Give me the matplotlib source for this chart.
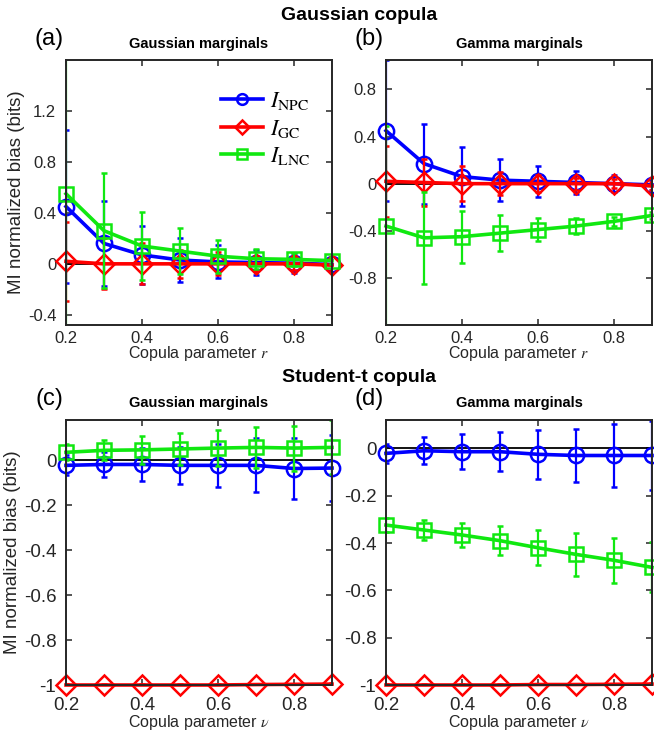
import matplotlib
matplotlib.use("Agg")
import matplotlib.pyplot as plt
from matplotlib.lines import Line2D

plt.rcParams['font.family'] = ['Liberation Sans', 'DejaVu Sans']
plt.rcParams['mathtext.fontset'] = 'stix'

# Copula parameter values (r for the Gaussian copula, nu for Student-t)
x = [0.2, 0.3, 0.4, 0.5, 0.6, 0.7, 0.8, 0.9]

# (a) Gaussian copula, Gaussian marginals
a_npc = [0.45, 0.16, 0.07, 0.03, 0.015, 0.01, 0.005, -0.005]
a_npc_err = [0.60, 0.33, 0.23, 0.17, 0.13, 0.10, 0.08, 0.05]
a_gc = [0.02, 0.0, 0.0, 0.0, 0.0, 0.0, 0.0, -0.01]
a_gc_err = [0.31, 0.20, 0.16, 0.11, 0.09, 0.06, 0.05, 0.04]
a_lnc = [0.55, 0.26, 0.14, 0.10, 0.06, 0.04, 0.035, 0.025]
a_lnc_err = [1.30, 0.45, 0.27, 0.18, 0.13, 0.08, 0.05, 0.03]

# (b) Gaussian copula, Gamma marginals
b_npc = [0.45, 0.17, 0.06, 0.03, 0.02, 0.01, 0.0, -0.01]
b_npc_err = [0.60, 0.34, 0.25, 0.18, 0.13, 0.10, 0.07, 0.04]
b_gc = [0.02, 0.01, 0.0, 0.0, 0.0, 0.0, 0.0, -0.02]
b_gc_err = [0.30, 0.20, 0.15, 0.10, 0.07, 0.05, 0.04, 0.03]
b_lnc = [-0.36, -0.46, -0.45, -0.42, -0.39, -0.36, -0.32, -0.27]
b_lnc_err = [0.85, 0.39, 0.22, 0.15, 0.10, 0.07, 0.04, 0.03]

# (c) Student-t copula, Gaussian marginals
c_npc = [-0.022, -0.018, -0.018, -0.022, -0.022, -0.022, -0.036, -0.034]
c_npc_err = [0.045, 0.055, 0.072, 0.083, 0.095, 0.12, 0.136, 0.145]
c_gc = [-1.0, -1.0, -1.0, -1.0, -1.0, -0.998, -0.997, -0.996]
c_gc_err = [0.003, 0.003, 0.003, 0.003, 0.003, 0.003, 0.003, 0.003]
c_lnc = [0.036, 0.045, 0.047, 0.051, 0.055, 0.058, 0.055, 0.058]
c_lnc_err = [0.035, 0.045, 0.063, 0.07, 0.08, 0.09, 0.10, 0.12]

# (d) Student-t copula, Gamma marginals
d_npc = [-0.021, -0.01, -0.014, -0.014, -0.025, -0.03, -0.03, -0.03]
d_npc_err = [0.04, 0.058, 0.075, 0.083, 0.104, 0.113, 0.134, 0.145]
d_gc = [-1.0, -1.0, -1.0, -1.0, -0.998, -0.998, -0.997, -0.996]
d_gc_err = [0.003, 0.003, 0.003, 0.003, 0.003, 0.003, 0.003, 0.003]
d_lnc = [-0.324, -0.345, -0.366, -0.39, -0.42, -0.448, -0.473, -0.503]
d_lnc_err = [0.028, 0.044, 0.051, 0.06, 0.073, 0.09, 0.094, 0.106]

labels = [r'$I_{\mathrm{NPC}}$', r'$I_{\mathrm{GC}}$', r'$I_{\mathrm{LNC}}$']
colors = ['#0000ff', '#ff0000', '#10e810']
markers = ['o', 'D', 's']
msizes = [11, 10, 10]

W, H = 654, 735
fig = plt.figure(figsize=(W / 100, H / 100), dpi=100)


def box(l, t, r, b):
    return [l / W, 1 - b / H, (r - l) / W, (b - t) / H]


INK = '#262626'


def panel(rect, series, ylim, yticks, letter, subtitle, xsym, fs_tick,
          xpad):
    ax = fig.add_axes(rect)
    ax.axhline(0, color='black', lw=1.3, zorder=2)
    for k, (y, e) in enumerate(series):
        line, caps, bars = ax.errorbar(
            x, y, yerr=e, color=colors[k], lw=2.6, marker=markers[k],
            ms=msizes[k], mfc='none', mew=1.8, elinewidth=1.6,
            capsize=2.5, capthick=1.6, zorder=3 + k)
        line.set_clip_on(False)
    ax.set_xlim(0.2, 0.9)
    ax.set_ylim(*ylim)
    ax.set_xticks([0.2, 0.4, 0.6, 0.8])
    ax.set_xticklabels(['0.2', '0.4', '0.6', '0.8'])
    ax.set_yticks(yticks)
    ax.set_yticklabels(['0' if abs(v) < 1e-9 else ('%g' % v) for v in yticks])
    ax.tick_params(direction='in', length=4, width=1.1, top=True, right=True,
                   labelsize=fs_tick, colors=INK)
    ax.tick_params(axis='y', pad=7)
    ax.tick_params(axis='x', pad=xpad)
    for s in ax.spines.values():
        s.set_color(INK)
        s.set_linewidth(1.4)
        s.set_zorder(10)
    ax.set_title(subtitle, fontsize=10.5, fontweight='bold', pad=9)
    ax.set_xlabel('Copula parameter ' + xsym, fontsize=11.5, labelpad=-1,
                  color=INK)
    bb = ax.get_position()
    fig.text(bb.x0 - 0.026, bb.y1 + 0.028, letter, fontsize=17,
             ha='center', va='center', color='black')
    return ax


ax_a = panel(box(66, 60, 332, 325),
             [(a_npc, a_npc_err), (a_gc, a_gc_err), (a_lnc, a_lnc_err)],
             (-0.48, 1.6), [-0.4, 0, 0.4, 0.8, 1.2], '(a)',
             'Gaussian marginals', r'$r$', 12, 4)
ax_b = panel(box(386, 60, 652, 325),
             [(b_npc, b_npc_err), (b_gc, b_gc_err), (b_lnc, b_lnc_err)],
             (-1.2, 1.05), [-0.8, -0.4, 0, 0.4, 0.8], '(b)',
             'Gamma marginals', r'$r$', 12, 4)
ax_c = panel(box(66, 420, 332, 685),
             [(c_npc, c_npc_err), (c_gc, c_gc_err), (c_lnc, c_lnc_err)],
             (-1.0, 0.18), [-1, -0.8, -0.6, -0.4, -0.2, 0], '(c)',
             'Gaussian marginals', r'$\nu$', 13.5, 9)
ax_d = panel(box(386, 420, 652, 685),
             [(d_npc, d_npc_err), (d_gc, d_gc_err), (d_lnc, d_lnc_err)],
             (-1.0, 0.12), [-1, -0.8, -0.6, -0.4, -0.2, 0], '(d)',
             'Gamma marginals', r'$\nu$', 13.5, 9)

for ax in (ax_a, ax_c):
    ax.set_ylabel('MI normalized bias (bits)', fontsize=13.5, color=INK,
                  labelpad=2)

handles = [Line2D([], [], color=colors[k], lw=2.6, marker=markers[k],
                  ms=msizes[k] * 0.7, mfc='none', mew=1.8)
           for k in range(3)]
leg = ax_a.legend(handles, labels, loc='upper right',
                  bbox_to_anchor=(0.95, 0.92), frameon=False, fontsize=16,
                  handlelength=1.9, handletextpad=0.3, labelspacing=0.25,
                  borderaxespad=0)

fig.text(359 / W, 1 - 15 / H, 'Gaussian copula', fontsize=14,
         fontweight='bold', ha='center', va='center')
fig.text(359 / W, 1 - 378 / H, 'Student-t copula', fontsize=14,
         fontweight='bold', ha='center', va='center')

fig.savefig('out.png', dpi=100)
